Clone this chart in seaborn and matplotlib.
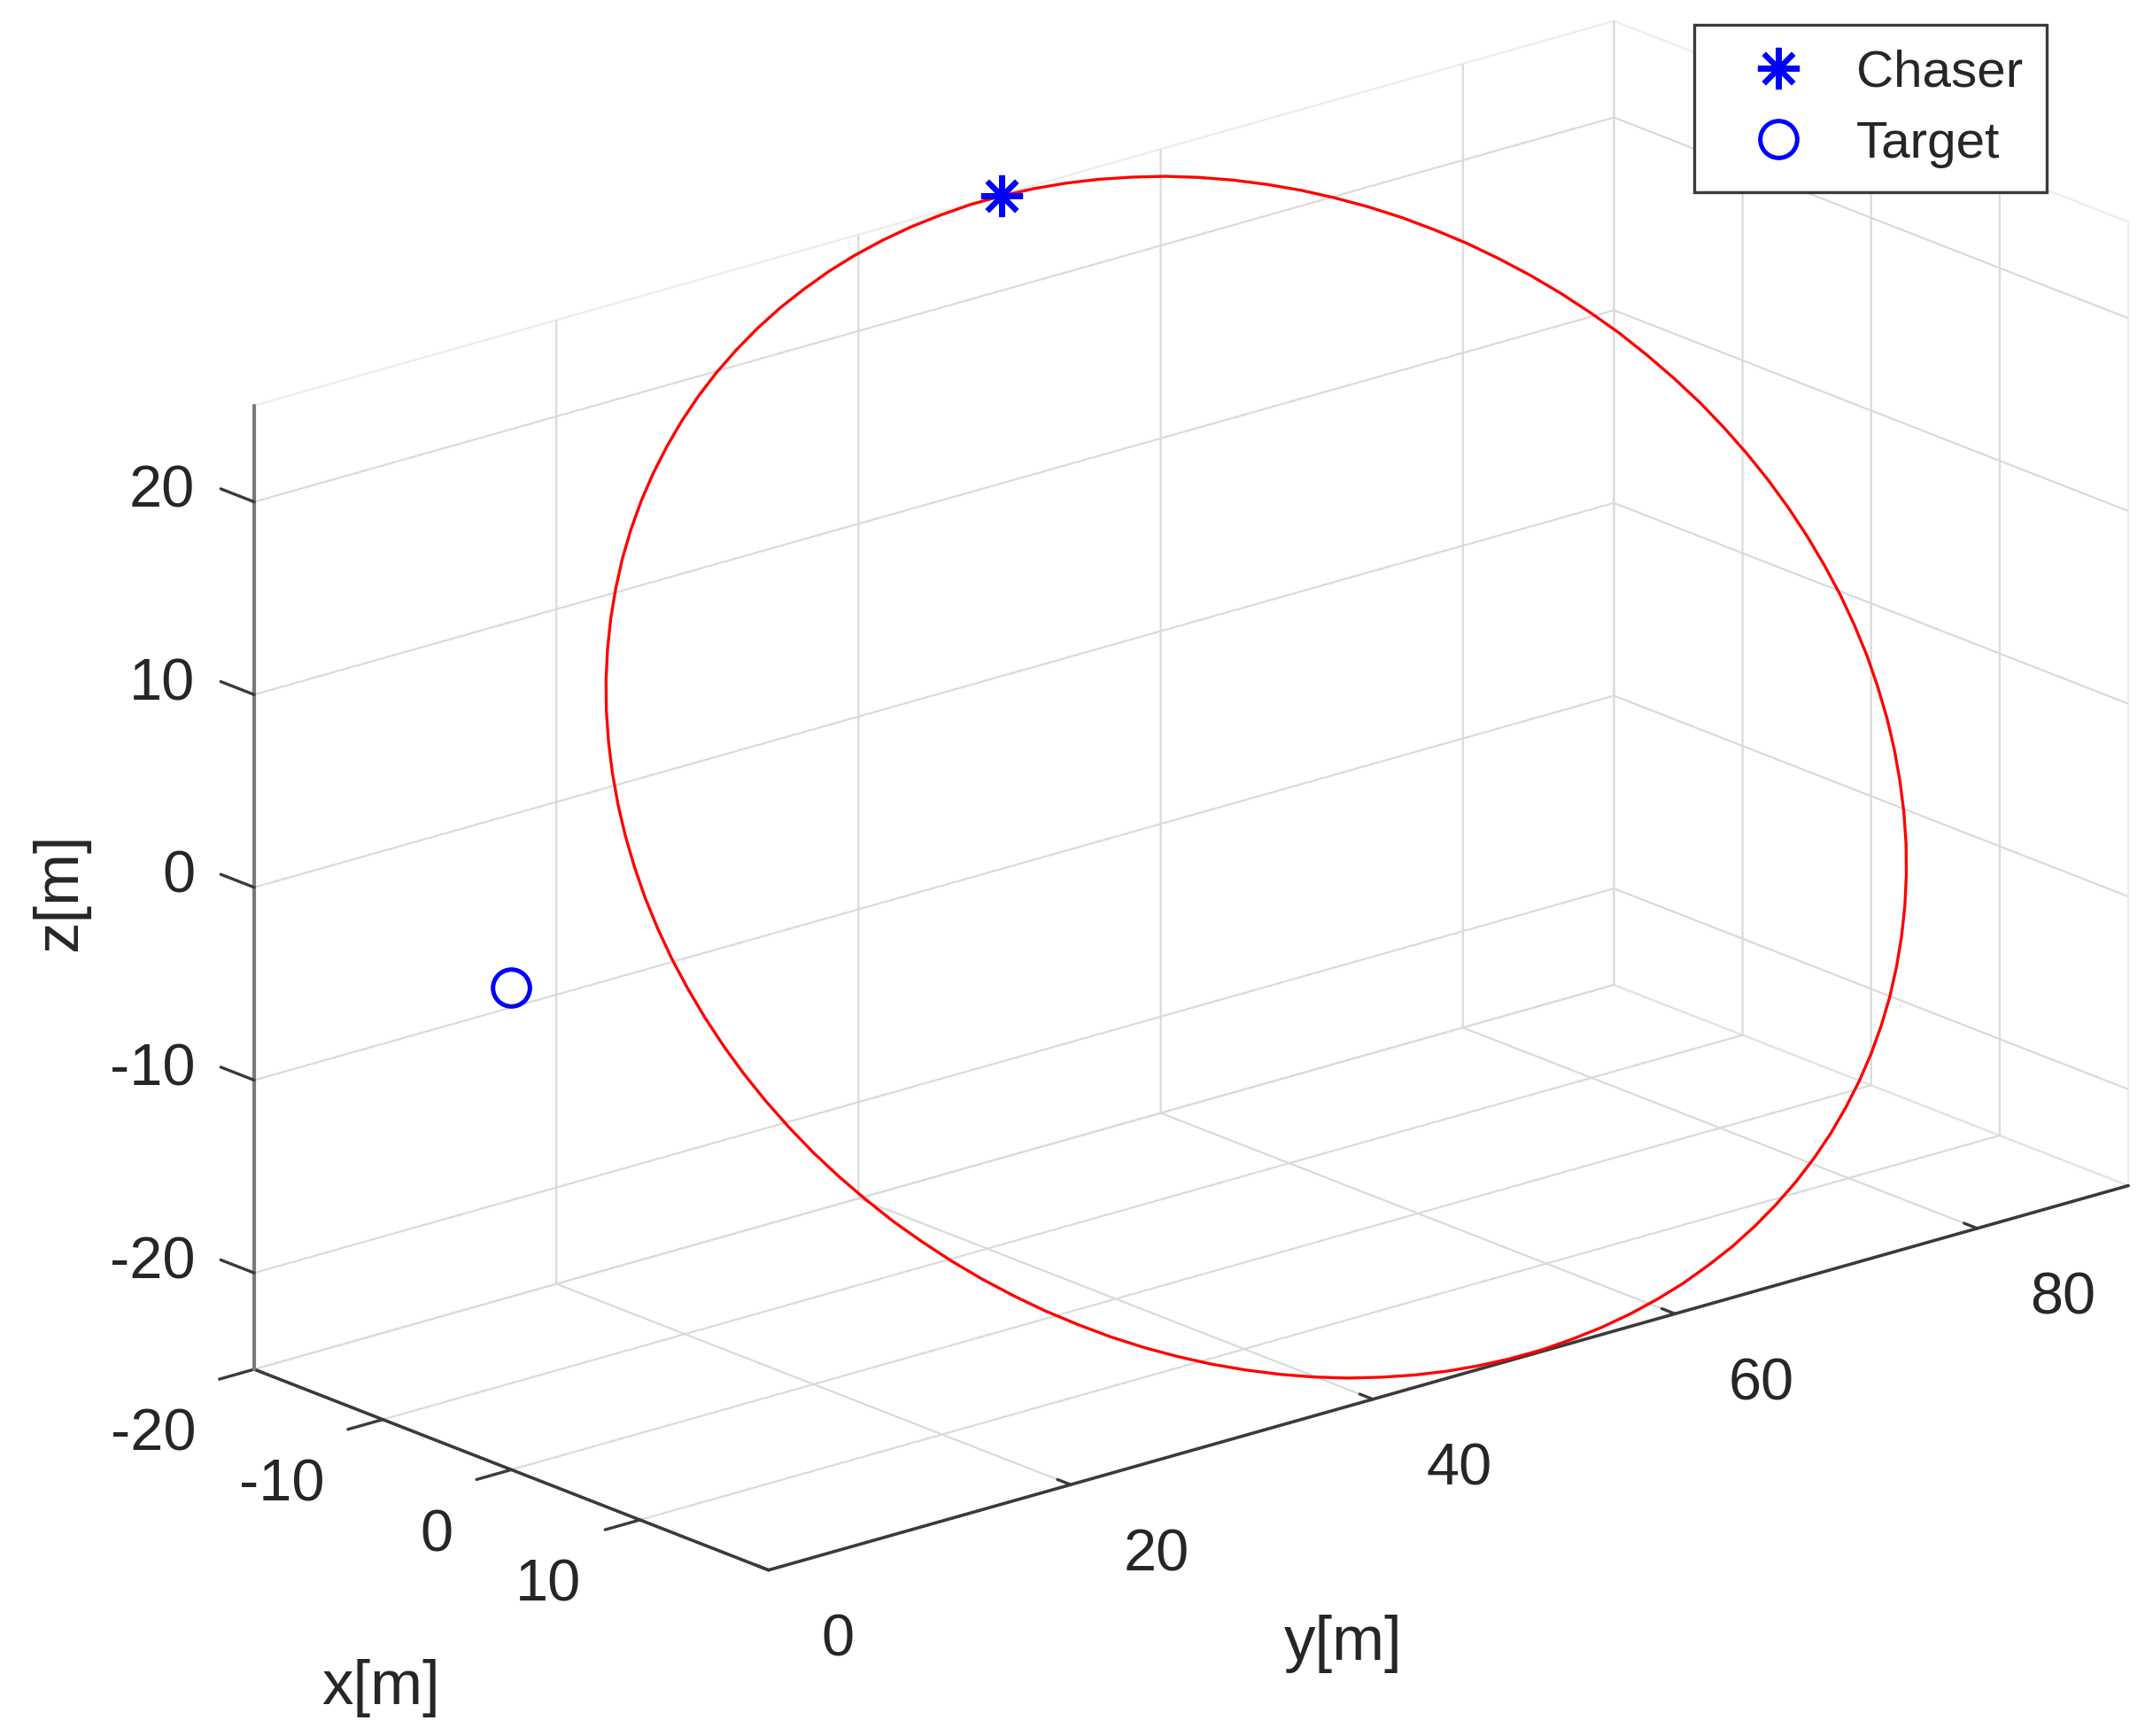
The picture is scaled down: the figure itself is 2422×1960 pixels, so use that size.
import numpy as np
import seaborn as sns
import matplotlib
matplotlib.use('Agg')
import matplotlib.pyplot as plt
from mpl_toolkits.mplot3d import proj3d

# chaser relative orbit, one sample every 3 deg, starting and ending at the chaser
traj_x = [-19.80, -19.77, -19.69, -19.56, -19.37, -19.13, -18.83, -18.48, -18.09, -17.64,
          -17.15, -16.61, -16.02, -15.39, -14.71, -14.00, -13.25, -12.46, -11.64, -10.78,
          -9.90, -8.99, -8.05, -7.10, -6.12, -5.12, -4.12, -3.10, -2.07, -1.04,
          0.00, 1.04, 2.07, 3.10, 4.12, 5.12, 6.12, 7.10, 8.05, 8.99,
          9.90, 10.78, 11.64, 12.46, 13.25, 14.00, 14.71, 15.39, 16.02, 16.61,
          17.15, 17.64, 18.09, 18.48, 18.83, 19.13, 19.37, 19.56, 19.69, 19.77,
          19.80, 19.77, 19.69, 19.56, 19.37, 19.13, 18.83, 18.48, 18.09, 17.64,
          17.15, 16.61, 16.02, 15.39, 14.71, 14.00, 13.25, 12.46, 11.64, 10.78,
          9.90, 8.99, 8.05, 7.10, 6.12, 5.12, 4.12, 3.10, 2.07, 1.04,
          0.00, -1.04, -2.07, -3.10, -4.12, -5.12, -6.12, -7.10, -8.05, -8.99,
          -9.90, -10.78, -11.64, -12.46, -13.25, -14.00, -14.71, -15.39, -16.02, -16.61,
          -17.15, -17.64, -18.09, -18.48, -18.83, -19.13, -19.37, -19.56, -19.69, -19.77,
          -19.80]
traj_y = [49.30, 51.37, 53.44, 55.49, 57.53, 59.55, 61.54, 63.49, 65.41, 67.28,
          69.10, 70.87, 72.58, 74.22, 75.80, 77.30, 78.73, 80.08, 81.34, 82.51,
          83.59, 84.58, 85.48, 86.27, 86.96, 87.55, 88.03, 88.41, 88.68, 88.85,
          88.90, 88.85, 88.68, 88.41, 88.03, 87.55, 86.96, 86.27, 85.48, 84.58,
          83.59, 82.51, 81.34, 80.08, 78.73, 77.30, 75.80, 74.22, 72.58, 70.87,
          69.10, 67.28, 65.41, 63.49, 61.54, 59.55, 57.53, 55.49, 53.44, 51.37,
          49.30, 47.23, 45.16, 43.11, 41.07, 39.05, 37.06, 35.11, 33.19, 31.32,
          29.50, 27.73, 26.02, 24.38, 22.80, 21.30, 19.87, 18.52, 17.26, 16.09,
          15.01, 14.02, 13.12, 12.33, 11.64, 11.05, 10.57, 10.19, 9.92, 9.75,
          9.70, 9.75, 9.92, 10.19, 10.57, 11.05, 11.64, 12.33, 13.12, 14.02,
          15.01, 16.09, 17.26, 18.52, 19.87, 21.30, 22.80, 24.38, 26.02, 27.73,
          29.50, 31.32, 33.19, 35.11, 37.06, 39.05, 41.07, 43.11, 45.16, 47.23,
          49.30]
traj_z = [25.00, 24.92, 24.77, 24.55, 24.26, 23.92, 23.50, 23.02, 22.47, 21.87,
          21.20, 20.48, 19.70, 18.86, 17.98, 17.04, 16.06, 15.03, 13.96, 12.87,
          11.72, 10.55, 9.35, 8.12, 6.87, 5.60, 4.32, 3.02, 1.71, 0.41,
          -0.90, -2.21, -3.51, -4.80, -6.08, -7.34, -8.59, -9.80, -10.99, -12.15,
          -13.28, -14.37, -15.42, -16.43, -17.40, -18.32, -19.18, -20.00, -20.76, -21.46,
          -22.10, -22.69, -23.21, -23.66, -24.06, -24.38, -24.64, -24.83, -24.95, -25.02,
          -25.00, -24.92, -24.77, -24.55, -24.26, -23.92, -23.50, -23.02, -22.47, -21.87,
          -21.20, -20.48, -19.70, -18.86, -17.98, -17.04, -16.06, -15.03, -13.96, -12.87,
          -11.72, -10.55, -9.35, -8.12, -6.87, -5.60, -4.32, -3.02, -1.71, -0.41,
          0.90, 2.21, 3.51, 4.80, 6.08, 7.34, 8.59, 9.80, 10.99, 12.15,
          13.28, 14.37, 15.42, 16.43, 17.40, 18.32, 19.18, 20.00, 20.76, 21.46,
          22.10, 22.69, 23.21, 23.66, 24.06, 24.38, 24.64, 24.83, 24.95, 25.02,
          25.00]

chaser_pos = [-19.8, 49.3, 25.0]
target_pos = [0.0, 0.0, 0.0]

x_lim = [-20, 20]
y_lim = [0, 90]
z_lim = [-25, 25]
x_ticks = [-20, -10, 0, 10]
y_ticks = [0, 20, 40, 60, 80]
z_ticks = [-20, -10, 0, 10, 20]

W_PX, H_PX = 2422, 1960
DPI = 200
GRID_C = '#dadada'
AX_C = '#3a3a3a'
ZAX_C = '#7a7a7a'
TXT_C = '#262626'
TICK_FS = 24
LAB_FS = 25.5

sns.set_theme(style='white')
plt.rcParams['font.family'] = ['Liberation Sans', 'DejaVu Sans']
plt.rcParams['axes.unicode_minus'] = False
plt.rcParams['grid.color'] = GRID_C
plt.rcParams['grid.linewidth'] = 0.8
plt.rcParams['grid.linestyle'] = '-'
plt.rcParams['axes.edgecolor'] = AX_C
plt.rcParams['axes.linewidth'] = 1.2
plt.rcParams['xtick.major.width'] = 1.2
plt.rcParams['ytick.major.width'] = 1.2
plt.rcParams['xtick.color'] = AX_C
plt.rcParams['ytick.color'] = AX_C

fig = plt.figure(figsize=(W_PX / DPI, H_PX / DPI), dpi=DPI)
fig.patch.set_facecolor('white')
ax = fig.add_axes([0.05, 0.05, 0.9, 0.9], projection='3d')
ax.set_proj_type('ortho')
ax.view_init(elev=19.4, azim=-40.4)
ax.set_box_aspect((40, 90, 51.5))
ax.set_facecolor('white')

ax.plot(traj_x, traj_y, traj_z, color='red', lw=1.2, clip_on=False)
ch, = ax.plot([chaser_pos[0]], [chaser_pos[1]], [chaser_pos[2]], ls='none',
              marker=(8, 2, 0), ms=17, mew=2.2, color='blue', label='Chaser', clip_on=False)
tg, = ax.plot([target_pos[0]], [target_pos[1]], [target_pos[2]], ls='none',
              marker='o', ms=15, mew=1.8, mfc='none', mec='blue', label='Target', clip_on=False)

ax.set_xlim(x_lim)
ax.set_ylim(y_lim)
ax.set_zlim(z_lim)
ax.set_xticks(x_ticks)
ax.set_yticks(y_ticks)
ax.set_zticks(z_ticks)
ax.set_xticklabels([])
ax.set_yticklabels([])
ax.set_zticklabels([])
ax.grid(True)

for axis in (ax.xaxis, ax.yaxis, ax.zaxis):
    axis.pane.fill = False
    axis.pane.set_facecolor((1, 1, 1, 0))
    axis.pane.set_edgecolor(GRID_C)
    axis.pane.set_linewidth(0.8)
    axis.line.set_color(AX_C)
    axis.line.set_linewidth(1.3)
    axis._axinfo['tick']['color'] = AX_C
    axis._axinfo['grid']['color'] = GRID_C
    axis._axinfo['grid']['linewidth'] = 0.8
# x ticks point towards -y, y ticks towards +x (outside the box)
ax.xaxis._axinfo['tick']['inward_factor'] = 0.32
ax.xaxis._axinfo['tick']['outward_factor'] = 0.0
ax.yaxis._axinfo['tick']['inward_factor'] = 0.0
ax.yaxis._axinfo['tick']['outward_factor'] = 0.32
# z ticks drawn below as short strokes along -x
ax.zaxis._axinfo['tick']['inward_factor'] = 0.0
ax.zaxis._axinfo['tick']['outward_factor'] = 0.0
ax.zaxis.line.set_color(ZAX_C)
ax.zaxis.line.set_linewidth(1.5)
ax.tick_params(colors=AX_C)

for v in z_ticks:
    ax.plot([x_lim[0], x_lim[0] - 2.6], [y_lim[0], y_lim[0]], [v, v],
            color=AX_C, lw=1.2, clip_on=False)

# z axis on the front-left edge, like the reference
ax.zaxis.set_ticks_position('lower')


def to_px(pt):
    xs, ys, _ = proj3d.proj_transform(pt[0], pt[1], pt[2], ax.get_proj())
    return np.array(ax.transData.transform((xs, ys)))


# put the box corners where the reference has them
q1 = np.array([287.0, H_PX - 1546.0])
q2 = np.array([2403.0, H_PX - 1337.0])
for _ in range(3):
    fig.canvas.draw()
    p1 = to_px((x_lim[0], y_lim[0], z_lim[0]))
    p2 = to_px((x_lim[1], y_lim[1], z_lim[0]))
    s = np.linalg.norm(q2 - q1) / np.linalg.norm(p2 - p1)
    bb = ax.get_position(original=True)
    c = np.array([(bb.x0 + bb.x1) / 2 * W_PX, (bb.y0 + bb.y1) / 2 * H_PX])
    c_new = q1 - s * (p1 - c)
    w_new, h_new = bb.width * s, bb.height * s
    ax.set_position([c_new[0] / W_PX - w_new / 2, c_new[1] / H_PX - h_new / 2, w_new, h_new])

fig.canvas.draw()
zline_x = ax.transData.transform(ax.zaxis.line.get_xydata())[:, 0].mean()
if zline_x > W_PX / 2:
    ax.zaxis.set_ticks_position('upper')
    fig.canvas.draw()


def put_text(px, s, dx, dy, **kw):
    # dx, dy in pixels, dy positive = downwards
    fig.text((px[0] + dx) / W_PX, (px[1] - dy) / H_PX, s, color=TXT_C, **kw)


base_shift = 0.358 * TICK_FS * DPI / 72  # digit centre -> baseline
for v in x_ticks:
    put_text(to_px((v, y_lim[0], z_lim[0])), f'{v:d}', -66, 68 + base_shift,
             ha='right', va='baseline', fontsize=TICK_FS)
for v in y_ticks:
    put_text(to_px((x_lim[1], v, z_lim[0])), f'{v:d}', 60, 73 + base_shift,
             ha='left', va='baseline', fontsize=TICK_FS)
for v in z_ticks:
    put_text(to_px((x_lim[0], y_lim[0], v)), f'{v:d}', -67, -18 + base_shift,
             ha='right', va='baseline', fontsize=TICK_FS)

fig.text(430 / W_PX, 1 - 1924 / H_PX, 'x[m]', ha='center', va='baseline',
         fontsize=LAB_FS, color=TXT_C)
fig.text(1517 / W_PX, 1 - 1874 / H_PX, 'y[m]', ha='center', va='baseline',
         fontsize=LAB_FS, color=TXT_C)
fig.text(86 / W_PX, 1 - 1007 / H_PX, 'z[m]', ha='center', va='baseline',
         rotation=90, rotation_mode='anchor', fontsize=LAB_FS, color=TXT_C)

leg = fig.legend(handles=[ch, tg], loc='upper left',
                 bbox_to_anchor=(1913 / W_PX, 1 - 28 / H_PX),
                 fontsize=21, frameon=True, fancybox=False, framealpha=1,
                 edgecolor=AX_C, borderpad=0.47, labelspacing=0.45,
                 handlelength=2.3, handletextpad=0.36, borderaxespad=0)
leg.get_frame().set_linewidth(1.2)
for t in leg.get_texts():
    t.set_color(TXT_C)

fig.savefig('out.png', dpi=DPI, facecolor='white')
